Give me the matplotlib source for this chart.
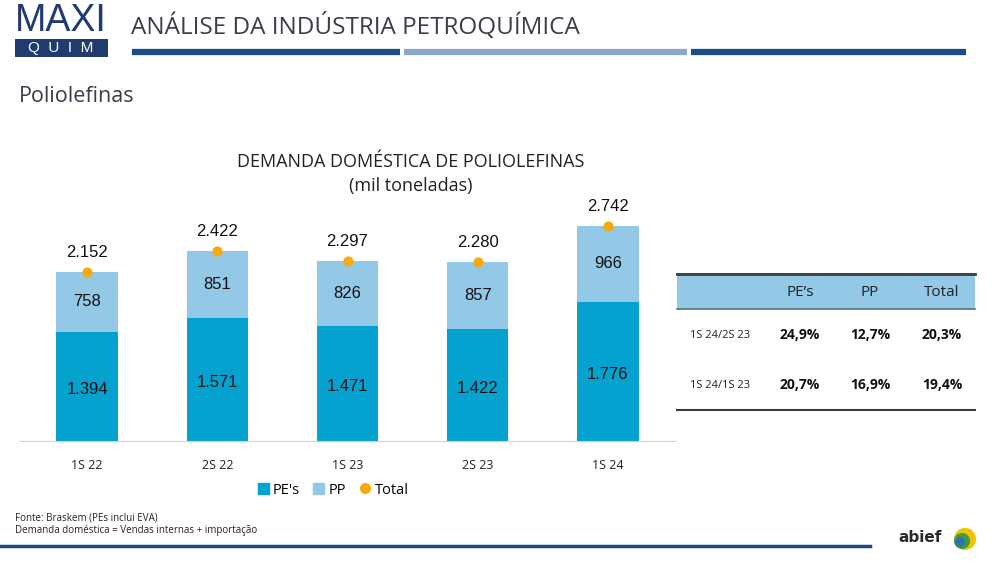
import matplotlib
matplotlib.use("Agg")
import matplotlib.pyplot as plt
from matplotlib.patches import Rectangle, Ellipse

# dados (mil toneladas)
periodos = ["1S 22", "2S 22", "1S 23", "2S 23", "1S 24"]
pe = [1394, 1571, 1471, 1422, 1776]
pp = [758, 851, 826, 857, 966]
total = [2152, 2422, 2297, 2280, 2742]

tab_colunas = ["PE\u2019s", "PP", "Total"]
tab_linhas = ["1S 24/2S 23", "1S 24/1S 23"]
tab_valores = [["24,9%", "12,7%", "20,3%"],
               ["20,7%", "16,9%", "19,4%"]]

C_PE = "#05A2CF"
C_PP = "#93C8E6"
C_TOT = "#F7AA0A"
NAVY = "#1C4C86"
LIGHT = "#8BA7C6"


def fmt(v):
    return "{:,}".format(v).replace(",", ".")


fig = plt.figure(figsize=(10, 5.63), dpi=100)
W, H = 1000.0, 563.0


def fx(x):
    return x / W


def fy(y):
    return 1 - y / H


# cabeçalho
fig.text(fx(61), fy(39), "MAXI", fontsize=27, color="#1F3B70",
         family="Liberation Sans", ha="center", va="bottom")
fig.patches.append(Rectangle((fx(15), fy(57)), fx(93), 18 / H, transform=fig.transFigure,
                             facecolor="#1F3B70", edgecolor="none"))
fig.text(fx(61), fy(48), "Q  U  I  M", fontsize=11, color="white",
         family="Liberation Sans", ha="center", va="center")
fig.text(fx(131), fy(27), "ANÁLISE DA INDÚSTRIA PETROQUÍMICA", fontsize=17.5,
         color="#3A3D4A", family="Open Sans", ha="left", va="center")
for x0, x1, c in [(132, 400, NAVY), (404, 687, LIGHT), (691, 966, NAVY)]:
    fig.add_artist(plt.Line2D([fx(x0), fx(x1)], [fy(52), fy(52)], color=c, lw=4.5,
                              solid_capstyle="butt", transform=fig.transFigure))
fig.text(fx(19), fy(97), "Poliolefinas", fontsize=15.5, color="#3A3D4A",
         family="Open Sans", ha="left", va="center")

# título do gráfico
fig.text(fx(411), fy(162), "DEMANDA DOMÉSTICA DE POLIOLEFINAS", fontsize=13,
         color="#222222", family="Open Sans", ha="center", va="center")
fig.text(fx(411), fy(186), "(mil toneladas)", fontsize=13,
         color="#222222", family="Open Sans", ha="center", va="center")

# gráfico de barras
ax = fig.add_axes([fx(20), fy(441), fx(655), 241 / H])
x = list(range(len(periodos)))
w = 0.47
ax.bar(x, pe, width=w, color=C_PE, label="PE's")
ax.bar(x, pp, width=w, bottom=pe, color=C_PP, label="PP")
ax.scatter(x, total, s=40, color=C_TOT, zorder=3, label="Total", clip_on=False)
for i in x:
    ax.text(i, pe[i] / 2 - 40, fmt(pe[i]), ha="center", va="center", fontsize=12,
            family="Liberation Sans", color="#111111")
    ax.text(i, pe[i] + pp[i] / 2, fmt(pp[i]), ha="center", va="center", fontsize=12,
            family="Liberation Sans", color="#111111")
    ax.text(i, total[i] + 245, fmt(total[i]), ha="center", va="center", fontsize=12,
            family="Liberation Sans", color="#111111", clip_on=False)
ax.set_xlim(-0.515, 4.515)
ax.set_ylim(0, 3070)
ax.set_yticks([])
ax.set_xticks(x)
ax.set_xticklabels(periodos, fontsize=9, family="Open Sans", color="#222222")
ax.tick_params(axis="x", length=0, pad=13)
for s in ["top", "right", "left"]:
    ax.spines[s].set_visible(False)
ax.spines["bottom"].set_color("#D0D0D0")
ax.patch.set_alpha(0)

fig.legend(handles=[Rectangle((0, 0), 1, 1, color=C_PE),
                    Rectangle((0, 0), 1, 1, color=C_PP),
                    plt.Line2D([], [], marker="o", ls="", color=C_TOT, markersize=7)],
           labels=["PE's", "PP", "Total"], loc="center", ncol=3,
           bbox_to_anchor=(fx(333), fy(490)), frameon=False, handlelength=0.75,
           handleheight=0.75, handletextpad=0.3, columnspacing=0.9,
           prop={"family": "Open Sans", "size": 10.5})

# tabela de variações
tx0, tx1 = 677, 975
fig.patches.append(Rectangle((fx(tx0), fy(309)), fx(tx1 - tx0), 36 / H,
                             transform=fig.transFigure, facecolor=C_PP, edgecolor="none"))
for y, c, lw in [(274, "#3C3C3C", 2.0), (309, "#5A6F80", 1.2), (410, "#3C3C3C", 1.5)]:
    fig.add_artist(plt.Line2D([fx(tx0), fx(tx1)], [fy(y), fy(y)], color=c, lw=lw,
                              transform=fig.transFigure))
col_x = [800, 870, 942]
for cx, nome in zip(col_x, tab_colunas):
    fig.text(fx(cx), fy(292), nome, fontsize=11, family="Open Sans", color="#222222",
             ha="center", va="center")
for ry, lab, vals in zip([335, 385], tab_linhas, tab_valores):
    fig.text(fx(690), fy(ry), lab, fontsize=8, family="Open Sans", color="#222222",
             ha="left", va="center")
    for cx, v in zip(col_x, vals):
        fig.text(fx(cx), fy(ry), v, fontsize=10, family="Open Sans", weight="bold",
                 color="#111111", ha="center", va="center")

# rodapé
fig.text(fx(15), fy(518), "Fonte: Braskem (PEs inclui EVA)", fontsize=7,
         family="Open Sans", color="#222222", va="center")
fig.text(fx(15), fy(531), "Demanda doméstica = Vendas internas + importação", fontsize=7,
         family="Open Sans", color="#222222", va="center")
fig.add_artist(plt.Line2D([0, fx(870)], [fy(546), fy(546)], color=NAVY, lw=2.5,
                          transform=fig.transFigure))

# logo abief (aproximação)
fig.text(fx(920), fy(538), "abief", fontsize=11, weight="bold", family="DejaVu Sans",
         color="#2A2A2A", ha="center", va="center")
for (cx, cy, r, c) in [(965, 539, 11, "#F2C200"), (962, 541, 8, "#3A9A4A"),
                       (960, 542, 4.5, "#2C6FB5")]:
    fig.patches.append(Ellipse((fx(cx), fy(cy)), 2 * r / W, 2 * r / H,
                               transform=fig.transFigure, facecolor=c, edgecolor="none"))

fig.savefig("out.png", dpi=100)
